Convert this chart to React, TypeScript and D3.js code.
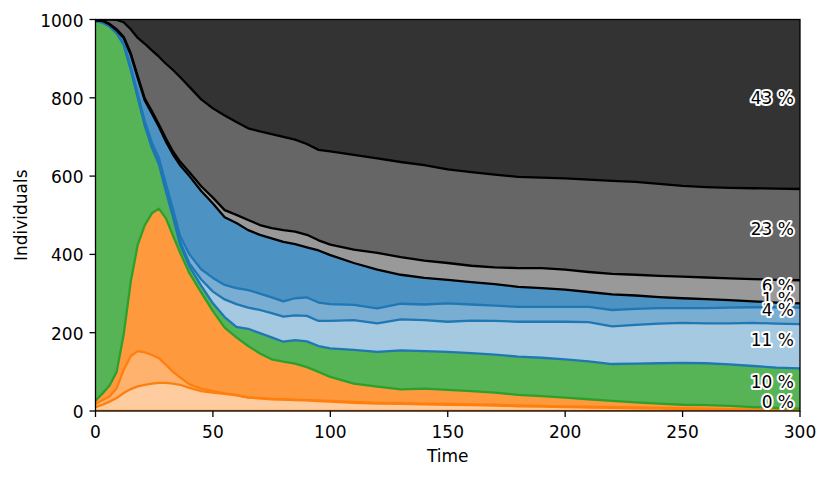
import React from 'react';
import * as d3 from 'd3';

const times = [0,3,6,9,12,15,18,21,24,27,30,33,36,40,45,50,55,60,65,70,75,80,85,90,95,100,110,120,130,140,150,160,170,180,190,200,210,220,230,240,250,260,270,280,290,300];

const infectedA = [10,16,24,33,46,56,63,67,70,72,72,70,67, 59,51,47,44,40,34,32,30,29,28,27,25,24, 21,19,18,17,16,15,14,12,11,10,9,8,7,6,5,5,4,3,2,1];
const infectedB = [8,12,13,25,59,84,90,83,73,63,46,30,19, 9,6,4,1,1,1,1,1,1,1,1,2,2, 2,2,2,2,2,2,2,2,2,2,2,2,2,2,2,1,1,1,1,1];
const infectedC = [8,17,28,42,90,190,272,325,362,382,374,348,319, 284,246,204,168,147,131,114,101,96,92,84,73,61, 47,41,35,38,36,34,31,27,25,22,19,16,13,11,9,9,8,6,5,4];
const susceptible = [969,947,917,865,740,542,375,253,167,113,68,47,20, 17,17,20,27,27,44,52,56,51,60,66,66,73, 86,89,100,96,97,97,97,98,98,98,97,94,99,103,107,107,106,105,103,103];
const recoveredA = [1,1,1,1,2,3,4,5,6,7,8,8,8, 8,16,30,45,58,54,59,62,64,63,65,64,70, 76,73,79,79,77,83,86,89,92,96,100,96,99,101,102,102,105,110,112,113];
const recoveredB = [1,1,1,2,3,4,5,7,8,9,12,13,14, 23,26,35,37,41,45,42,40,39,44,47,47,43, 39,38,40,40,47,41,39,38,38,38,39,42,41,40,38,39,40,40,42,42];
const recoveredC = [1,2,3,4,13,31,41,53,74,80,108,139,181, 200,200,190,173,166,153,150,151,152,138,128,133,125, 107,99,74,68,60,57,55,51,48,44,38,40,34,28,25,23,19,15,12,11];
const deadA = [1,1,2,3,3,4,5,5,6,6,8,8,9, 10,12,15,18,21,26,25,26,30,32,32,26,27, 34,43,45,44,43,42,43,48,51,51,51,52,53,54,55,55,56,57,58,59];
const deadB = [1,3,11,24,37,61,98,140,155,173,191,208,216, 218,222,228,242,237,234,239,240,238,235,232,231,238, 242,241,243,244,239,239,237,233,231,233,236,238,237,235,232,231,231,232,233,233];
const deadC = [0,0,0,1,7,25,47,62,79,95,113,129,147, 172,204,227,245,262,278,286,293,300,307,318,333,337, 346,355,364,372,383,390,396,402,404,406,409,412,415,420,425,428,430,431,432,433];

const layerKeys = ['iA','iB','iC','s','rA','rB','rC','dA','dB','dC'];
const layerValues = [infectedA, infectedB, infectedC, susceptible, recoveredA, recoveredB, recoveredC, deadA, deadB, deadC];
const fillColors = ['#ffcc9f','#ffb26e','#ff993e','#56b356','#a5c9e1','#79add2','#4c92c3','#999999','#666666','#333333'];
const lineColors = ['#ff7f0e','#ff7f0e','#ff7f0e','#2ca02c','#1f77b4','#1f77b4','#1f77b4','#000000','#000000','#000000'];
const labelled = [false,false,true,true,true,true,true,true,true,true];

const xTicks = [0,50,100,150,200,250,300];
const yTicks = [0,200,400,600,800,1000];

const W = 830, H = 479;
const left = 95.5, right = 800, top = 19.5, bottom = 411;
const FONT = 'DejaVu Sans, sans-serif';

export default function App() {
  const x = d3.scaleLinear().domain([0, 300]).range([left, right]);
  const y = d3.scaleLinear().domain([0, 1000]).range([bottom, top]);
  const table = times.map((t, i) => {
    const row: any = { t };
    layerKeys.forEach((k, j) => { row[k] = layerValues[j][i]; });
    return row;
  });
  const total = layerValues.reduce((s, arr) => s + arr[arr.length - 1], 0);
  const stacked = d3.stack().keys(layerKeys)(table as any);
  const area = d3.area<any>().x((d) => x(d.data.t)).y0((d) => y(d[0])).y1((d) => y(d[1]));
  const lowerLine = d3.line<any>().x((d) => x(d.data.t)).y((d) => y(d[0]));
  const last = times.length - 1;

  const labels = stacked.map((s, j) => {
    const d = s[last];
    const mid = (d[0] + d[1]) / 2;
    const pct = Math.round((100 * (d[1] - d[0])) / total);
    return { j, mid, text: `${pct} %` };
  }).filter((l) => labelled[l.j]).reverse();

  return (
    <svg width={W} height={H} style={{ position: 'absolute', left: 0, top: 0, background: '#fff' }} fontFamily={FONT}>
      <defs>
        <clipPath id="plot">
          <rect x={left} y={top} width={right - left} height={bottom - top} />
        </clipPath>
      </defs>
      <g clipPath="url(#plot)">
        {stacked.map((s, j) => (
          <path key={'a' + j} d={area(s as any) || ''} fill={fillColors[j]} stroke="none" />
        ))}
        {stacked.map((s, j) => (
          <path key={'l' + j} d={lowerLine(s as any) || ''} fill="none" stroke={lineColors[j]} strokeWidth={2.3} strokeLinejoin="round" />
        ))}
      </g>
      {labels.map((l) => (
        <text key={'t' + l.j} x={794} y={Math.min(y(l.mid), 407.5)} textAnchor="end" fontSize={17} fill="#000"
          stroke="#fff" strokeWidth={4} strokeLinejoin="round" style={{ paintOrder: 'stroke' } as any}>
          {l.text}
        </text>
      ))}
      <rect x={left} y={top} width={right - left} height={bottom - top} fill="none" stroke="#000" strokeWidth={1.3} />
      {xTicks.map((t) => (
        <g key={'x' + t}>
          <line x1={x(t)} x2={x(t)} y1={bottom} y2={bottom + 6} stroke="#000" strokeWidth={1.3} />
          <text x={x(t)} y={437.5} textAnchor="middle" fontSize={17} fill="#000">{t}</text>
        </g>
      ))}
      {yTicks.map((v) => (
        <g key={'y' + v}>
          <line x1={left - 6} x2={left} y1={y(v)} y2={y(v)} stroke="#000" strokeWidth={1.3} />
          <text x={83.5} y={y(v) + 7} textAnchor="end" fontSize={17} fill="#000">{v}</text>
        </g>
      ))}
      <text x={(left + right) / 2} y={462} textAnchor="middle" fontSize={17} fill="#000">Time</text>
      <text transform={`translate(26.5, ${(top + bottom) / 2}) rotate(-90)`} textAnchor="middle" fontSize={17} fill="#000">Individuals</text>
    </svg>
  );
}
